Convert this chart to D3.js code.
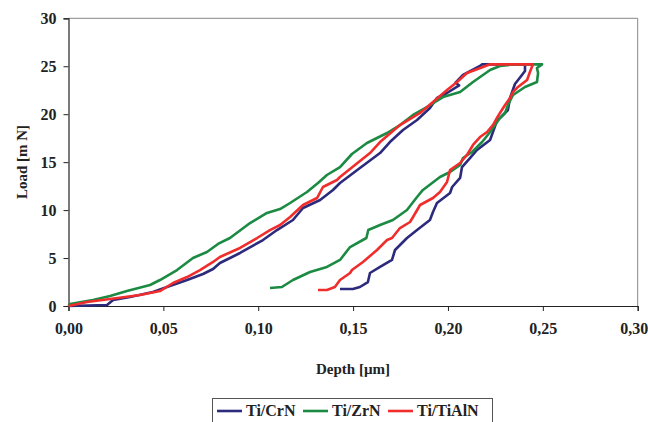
<!DOCTYPE html>
<html>
<head>
<meta charset="utf-8">
<script src="https://cdn.jsdelivr.net/npm/d3@7"></script>
<style>
  body { margin: 0; background: #fff; }
  text { font-family: "Liberation Serif", "Times New Roman", serif; font-weight: bold; fill: #222; }
</style>
</head>
<body>
<div id="chart"></div>
<script>
// depth [um], load [mN]
var crn = [
  [0,0],[0.0203,0.10],[0.0235,0.63],[0.0324,0.94],[0.0445,1.46],[0.0519,1.98],[0.0625,2.71],
  [0.0709,3.34],[0.0762,3.86],[0.0798,4.48],[0.0904,5.53],[0.1025,6.88],[0.1099,7.92],
  [0.1183,8.97],[0.1236,10.22],[0.1326,11.05],[0.1394,12.10],[0.1431,12.83],[0.1536,14.39],
  [0.1642,15.95],[0.1694,17.10],[0.1763,18.35],[0.1837,19.40],[0.1905,20.65],[0.1942,21.69],
  [0.1995,22.21],[0.2059,23.00],[0.2040,23.30],[0.2079,24.09],[0.2169,25.03],[0.2180,25.2],
  [0.2406,25.2],
  [0.2406,24.5],[0.2390,24.09],[0.2353,23.15],[0.2327,21.70],[0.2316,20.44],[0.2290,19.92],
  [0.2258,19.30],[0.2222,17.31],[0.2153,16.27],[0.2116,15.43],[0.2074,14.49],[0.2064,13.35],
  [0.2022,12.41],[0.2011,11.78],[0.1942,10.74],[0.1921,9.80],[0.1905,8.97],[0.1837,7.92],
  [0.1784,7.09],[0.1721,5.84],[0.1705,4.80],[0.1642,4.07],[0.1589,3.44],[0.1578,2.50],
  [0.1536,1.98],[0.1499,1.77],[0.1431,1.77]
]
var zrn = [
  [0,0],[0.0008,0.21],[0.0129,0.63],[0.0219,1.04],[0.0308,1.56],[0.0430,2.19],[0.0482,2.71],
  [0.0572,3.75],[0.0656,5.01],[0.0730,5.63],[0.0788,6.47],[0.0851,7.09],[0.0957,8.65],
  [0.1046,9.70],[0.1115,10.11],[0.1168,10.74],[0.1257,11.89],[0.1315,12.83],[0.1362,13.66],
  [0.1431,14.49],[0.1494,15.85],[0.1573,17.00],[0.1679,18.04],[0.1747,18.87],[0.1816,19.92],
  [0.1889,20.75],[0.1974,21.79],[0.2064,22.31],[0.2132,23.36],[0.2222,24.61],[0.2274,25.03],
  [0.2350,25.2],[0.2496,25.2],
  [0.2469,24.82],[0.2475,24.30],[0.2469,23.36],[0.2406,22.84],[0.2343,22.00],[0.2316,20.96],
  [0.2301,20.13],[0.2274,19.60],[0.2222,18.14],[0.2180,17.10],[0.2127,16.06],[0.2079,15.43],
  [0.2064,14.70],[0.2011,13.97],[0.1958,13.45],[0.1868,12.10],[0.1837,11.37],[0.1784,10.01],
  [0.1710,8.97],[0.1642,8.45],[0.1580,7.92],[0.1570,7.09],[0.1484,6.15],[0.1431,4.80],
  [0.1362,4.07],[0.1273,3.55],[0.1183,2.71],[0.1125,1.98],[0.1062,1.88]
]
var tialn = [
  [0,0],[0.0098,0.42],[0.0219,0.73],[0.0377,1.15],[0.0482,1.56],[0.0551,2.40],[0.0625,3.02],
  [0.0693,3.75],[0.0762,4.59],[0.0798,5.11],[0.0904,6.05],[0.0994,7.09],[0.1062,7.92],
  [0.1115,8.45],[0.1168,9.28],[0.1236,10.53],[0.1310,11.26],[0.1341,12.41],[0.1415,13.14],
  [0.1431,13.45],[0.1510,14.70],[0.1589,15.95],[0.1642,17.10],[0.1747,18.87],[0.1853,20.13],
  [0.1921,21.27],[0.1995,22.52],[0.2048,23.36],[0.2100,24.30],[0.2185,24.92],[0.2222,25.2],
  [0.2448,25.2],
  [0.2432,24.40],[0.2417,23.57],[0.2369,22.84],[0.2343,22.31],[0.2327,21.69],[0.2301,20.96],
  [0.2274,20.13],[0.2258,19.60],[0.2237,18.87],[0.2206,18.14],[0.2169,17.62],[0.2132,16.79],
  [0.2100,15.75],[0.2064,14.91],[0.2011,14.18],[0.1995,12.93],[0.1958,11.89],[0.1921,11.26],
  [0.1853,10.53],[0.1816,9.28],[0.1800,8.76],[0.1747,8.13],[0.1705,7.09],[0.1679,6.88],
  [0.1626,5.84],[0.1552,4.59],[0.1494,3.75],[0.1484,3.44],[0.1431,2.71],[0.1404,1.98],
  [0.1362,1.67],[0.1315,1.67]
]
var seriesNames = ["Ti/CrN", "Ti/ZrN", "Ti/TiAlN"]
var seriesColors = ["#2c2a7c", "#1b8a42", "#f02d2d"]
var xTicks = [0, 0.05, 0.10, 0.15, 0.20, 0.25, 0.30]
var yTicks = [0, 5, 10, 15, 20, 25, 30]

var width = 648, height = 422
var mLeft = 68.5, mRight = 637.7, mTop = 18.3, mBottom = 306

var svg = d3.select("#chart").append("svg")
  .attr("width", width)
  .attr("height", height)

var x = d3.scaleLinear().domain([0, 0.30]).range([mLeft, mRight])
var y = d3.scaleLinear().domain([0, 30]).range([mBottom, mTop])

// frame (top / right grey)
svg.append("path")
  .attr("d", "M" + mLeft + "," + mTop + "H" + mRight + "V" + mBottom)
  .attr("fill", "none")
  .attr("stroke", "#888")
  .attr("stroke-width", 1)

var fmt = function(d) { return d3.format(".2f")(d).replace(".", ",") }

var xAxis = svg.append("g")
  .attr("transform", "translate(0," + mBottom + ")")
  .call(d3.axisBottom(x).tickValues(xTicks).tickFormat(fmt).tickSize(5).tickPadding(12))
xAxis.selectAll("text").style("font-size", "16px")
// keep last label inside the page
xAxis.selectAll(".tick:last-of-type text").attr("text-anchor", "end").attr("x", 10)

var yAxis = svg.append("g")
  .attr("transform", "translate(" + mLeft + ",0)")
  .call(d3.axisLeft(y).tickValues(yTicks).tickSize(5).tickPadding(7))
yAxis.selectAll("text").style("font-size", "16px")

svg.selectAll(".domain").attr("stroke", "#222").attr("stroke-width", 1.2)
svg.selectAll(".tick line").attr("stroke", "#222")

svg.append("text")
  .attr("x", 353).attr("y", 374)
  .attr("text-anchor", "middle")
  .style("font-size", "15px")
  .text("Depth [\u00b5m]")

svg.append("text")
  .attr("transform", "translate(27," + 162 + ") rotate(-90)")
  .attr("text-anchor", "middle")
  .style("font-size", "15px")
  .text("Load [m N]")

var line = d3.line()
  .x(function(d) { return x(d[0]) })
  .y(function(d) { return y(d[1]) })

var all = [crn, zrn, tialn]
all.forEach(function(s, i) {
  svg.append("path")
    .datum(s)
    .attr("d", line)
    .attr("fill", "none")
    .attr("stroke", seriesColors[i])
    .attr("stroke-width", 2.6)
    .attr("stroke-linejoin", "round")
})

// legend
var lg = svg.append("g")
lg.append("rect")
  .attr("x", 212.5).attr("y", 398.5)
  .attr("width", 280).attr("height", 30)
  .attr("fill", "#fff").attr("stroke", "#555")
var lx = [217, 303, 388]
seriesNames.forEach(function(n, i) {
  lg.append("line")
    .attr("x1", lx[i]).attr("x2", lx[i] + 25)
    .attr("y1", 411).attr("y2", 411)
    .attr("stroke", seriesColors[i]).attr("stroke-width", 2.6)
  lg.append("text")
    .attr("x", lx[i] + 29).attr("y", 416)
    .style("font-size", "16px")
    .text(n)
})
</script>
</body>
</html>
